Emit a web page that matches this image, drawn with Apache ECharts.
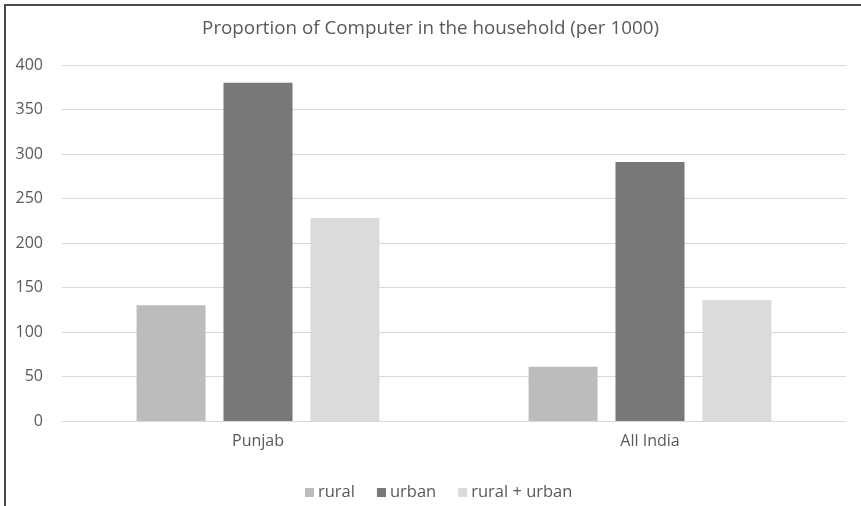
<!DOCTYPE html>
<html>
<head>
<meta charset="utf-8">
<script src="https://cdn.jsdelivr.net/npm/echarts@6/dist/echarts.min.js"></script>
<style>
  html, body { margin: 0; padding: 0; background: #fff; overflow: hidden; }
  #frame { position: absolute; left: 4px; top: 4px; width: 900px; height: 540px;
           border-left: 2px solid #4a4a4a; border-top: 2px solid #4a4a4a; }
  #chart { position: absolute; left: 0; top: 0; width: 861px; height: 506px; }
</style>
</head>
<body>
<div id="frame"></div>
<div id="chart"></div>
<script>
// Households with a computer, per 1000 households
const regions = ['Punjab', 'All India'];
const rural = [130, 61];
const urban = [380, 291];
const ruralUrban = [228, 136];
const yTicks = [0, 50, 100, 150, 200, 250, 300, 350, 400];

const FONT = '"Open Sans"';
const TEXT = '#595959';

const chart = echarts.init(document.getElementById('chart'), null, { renderer: 'canvas' });

function barSeries(name, values, color) {
  return {
    name: name,
    type: 'bar',
    data: values,
    barWidth: 69,
    barGap: '26%',
    itemStyle: { color: color },
    emphasis: { disabled: true },
    animation: false
  };
}

chart.setOption({
  animation: false,
  title: {
    text: 'Proportion of Computer in the household (per 1000)',
    left: 'center',
    top: 14,
    textStyle: { fontFamily: FONT, fontSize: 18.8, fontWeight: 'normal', color: TEXT }
  },
  legend: {
    bottom: 0,
    left: 300,
    itemWidth: 9,
    itemHeight: 9,
    itemGap: 22,
    icon: 'rect',
    textStyle: { fontFamily: FONT, fontSize: 16.5, color: TEXT, padding: [0, 0, 0, -1] },
    data: ['rural', 'urban', 'rural + urban']
  },
  grid: { left: 62, right: 15, top: 65, bottom: 85 },
  xAxis: {
    type: 'category',
    data: regions,
    axisLine: { lineStyle: { color: '#d9d9d9', width: 1 } },
    axisTick: { show: false },
    axisLabel: { fontFamily: FONT, fontSize: 16, color: TEXT, margin: 12 }
  },
  yAxis: {
    type: 'value',
    min: yTicks[0],
    max: yTicks[yTicks.length - 1],
    interval: yTicks[1] - yTicks[0],
    axisLine: { show: false },
    axisTick: { show: false },
    splitLine: { lineStyle: { color: '#d9d9d9', width: 1 } },
    axisLabel: { fontFamily: FONT, fontSize: 16, color: TEXT, margin: 19 }
  },
  series: [
    barSeries('rural', rural, '#bcbcbf'),
    barSeries('urban', urban, '#78787b'),
    barSeries('rural + urban', ruralUrban, '#dbdbdd')
  ]
});
</script>
</body>
</html>
